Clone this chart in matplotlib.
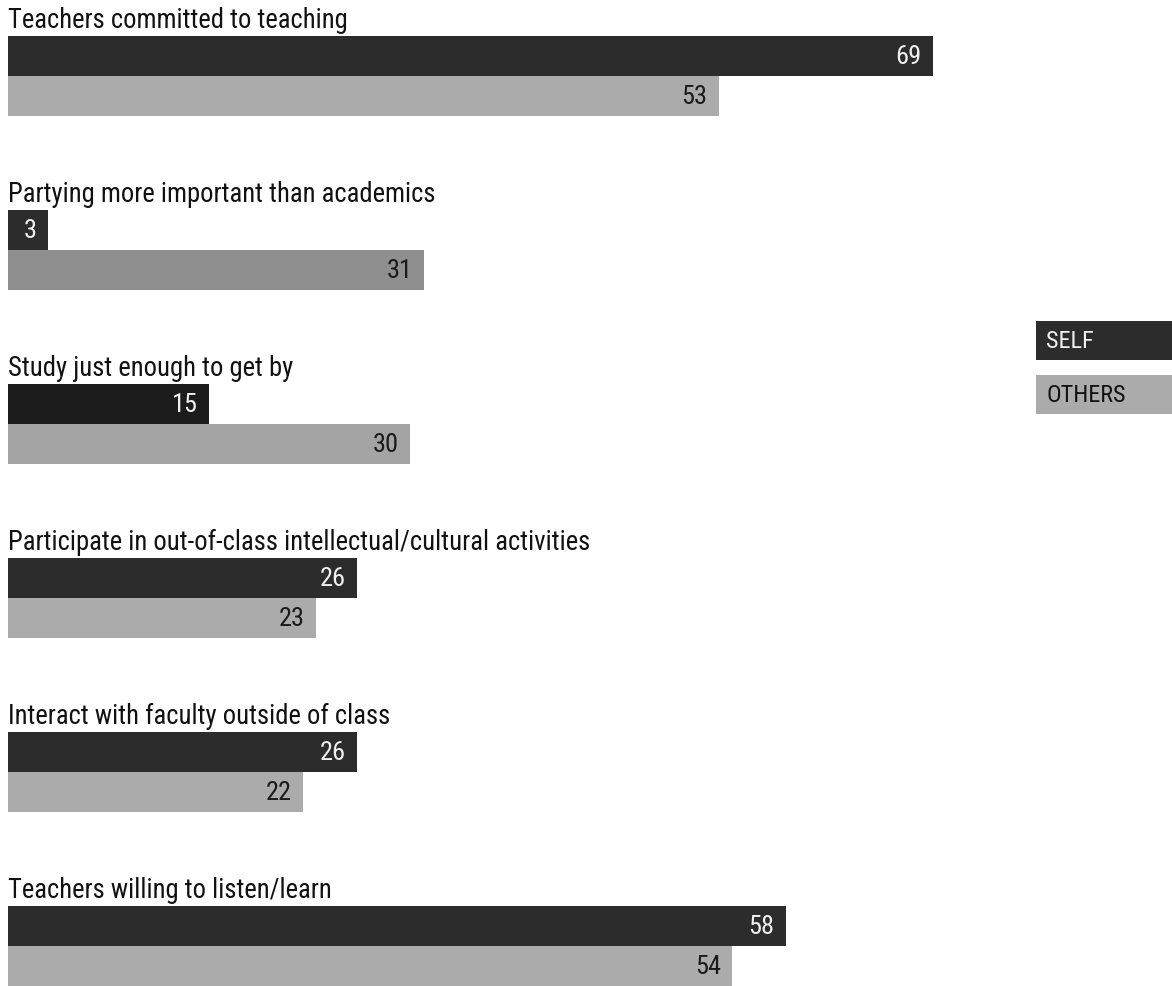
import matplotlib.pyplot as plt
import matplotlib.patches as mpatches

plt.rcParams['font.family'] = ['Roboto Condensed', 'Liberation Sans Narrow', 'Roboto', 'DejaVu Sans']

# data
categories = ['Teachers committed to teaching',
              'Partying more important than academics',
              'Study just enough to get by',
              'Participate in out-of-class intellectual/cultural activities',
              'Interact with faculty outside of class',
              'Teachers willing to listen/learn']
self_vals = [69, 3, 15, 26, 26, 58]
others_vals = [53, 31, 30, 23, 22, 54]

W, H = 1172, 987
dark = '#2c2c2c'
light = '#ababab'
others_colors = [light, '#8f8f8f', '#a4a4a4', light, light, light]
self_colors = [dark, dark, '#1c1c1c', dark, dark, dark]

fig = plt.figure(figsize=(W / 100, H / 100), dpi=100)
ppu = (933 - 8) / 69.0
ax = fig.add_axes([8 / W, 0, 1 - 8 / W, 1])
ax.set_xlim(0, (W - 8) / ppu)
ax.set_ylim(H, 0)
ax.axis('off')

bar_h = 40
top0, step = 37, 174
for i, cat in enumerate(categories):
    top = top0 + step * i
    ys = top + bar_h / 2
    yo = top + bar_h * 1.5
    ax.barh(ys, self_vals[i], height=bar_h, color=self_colors[i], linewidth=0)
    ax.barh(yo, others_vals[i], height=bar_h, color=others_colors[i], linewidth=0)
    ax.text(0, top - 9, cat, fontsize=19.2, color='#111111', va='baseline', ha='left')
    ax.annotate(str(self_vals[i]), (self_vals[i], ys), xytext=(-8, 0),
                textcoords='offset points', ha='right', va='center',
                fontsize=19, color='#f0f0f0')
    ax.annotate(str(others_vals[i]), (others_vals[i], yo), xytext=(-8, 0),
                textcoords='offset points', ha='right', va='center',
                fontsize=19, color='#1a1a1a')

# legend boxes
for lab, col, tc, y0 in [('SELF', dark, '#f0f0f0', 322), ('OTHERS', light, '#111111', 376)]:
    fig.patches.append(mpatches.Rectangle((1036 / W, 1 - (y0 + 39) / H), (W - 1036) / W, 39 / H,
                                          transform=fig.transFigure, color=col, lw=0))
    fig.text(1046 / W, 1 - (y0 + 19.5) / H, lab, fontsize=17.5, color=tc, va='center', ha='left')

plt.savefig('out.png', dpi=100)
plt.close()
